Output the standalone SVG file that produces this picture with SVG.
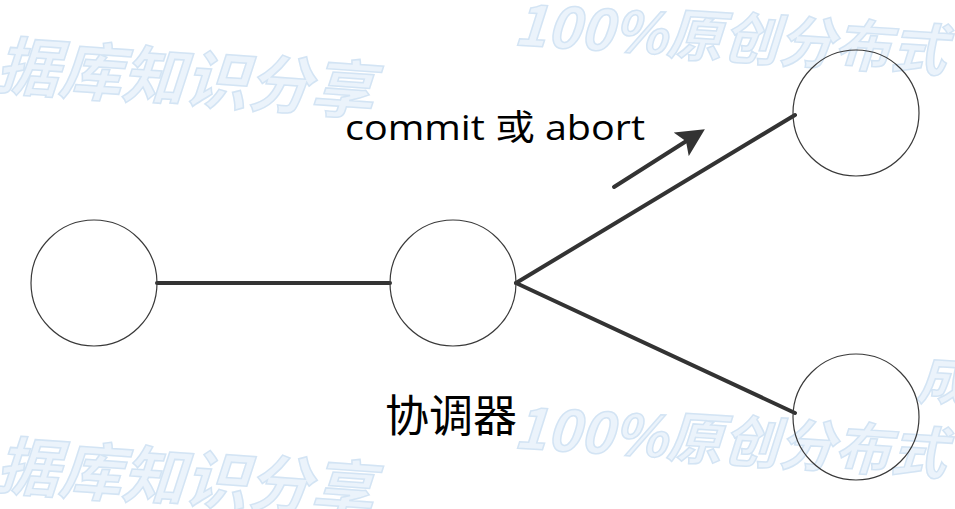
<svg xmlns="http://www.w3.org/2000/svg" width="955" height="509" viewBox="0 0 955 509">
<defs>
<style>
.wm{font-family:"Noto Sans CJK SC","Noto Sans",sans-serif;font-weight:bold;font-style:italic;fill:#ebf3fb;stroke:#d3e4f4;stroke-width:1.5}
.node{fill:none;stroke:#3a3a3a;stroke-width:1.2}
.edge{stroke:#333;stroke-width:4;fill:none;stroke-linecap:round}
.lbl{font-family:"Open Sans","Liberation Sans","Noto Sans CJK SC",sans-serif;fill:#000}
</style>
<marker id="ah" markerWidth="7" markerHeight="7" refX="2" refY="3.5" orient="auto" markerUnits="strokeWidth">
<path d="M0,0 L7,3.5 L0,7 L1.4,3.5 Z" fill="#333"/>
</marker>
</defs>
<rect width="955" height="509" fill="#fff"/>
<g id="watermarks">
<text class="wm" font-size="63" transform="translate(-5,88) rotate(4)">据库知识分享</text>
<text class="wm" font-size="56" transform="translate(513,45) rotate(3.5)">100%原创分布式</text>
<text class="wm" font-size="63" transform="translate(-5,488) rotate(4)">据库知识分享</text>
<text class="wm" font-size="56" transform="translate(513,448) rotate(3.5)">100%原创分布式</text>
<text class="wm" font-size="56" transform="translate(916,398) rotate(3.5)">成</text>
</g>
<g id="connectors">
<line class="edge" x1="157" y1="283" x2="390" y2="283"/>
<line class="edge" x1="516" y1="283" x2="795" y2="115"/>
<line class="edge" x1="516" y1="283" x2="795" y2="413"/>
<line class="edge" x1="614" y1="187" x2="688" y2="140" marker-end="url(#ah)"/>
</g>
<g id="node-left"><circle class="node" cx="94" cy="283" r="63"/></g>
<g id="node-coordinator"><circle class="node" cx="453" cy="283" r="63"/></g>
<g id="node-top"><circle class="node" cx="856" cy="113" r="63"/></g>
<g id="node-bottom"><circle class="node" cx="856" cy="417" r="63"/></g>
<g id="labels">
<text class="lbl" x="345" y="140" font-size="35" textLength="300" lengthAdjust="spacingAndGlyphs">commit 或 abort</text>
<text x="385" y="432" font-size="44" font-family="Noto Sans CJK SC,sans-serif" fill="#000">协调器</text>
</g>
</svg>
